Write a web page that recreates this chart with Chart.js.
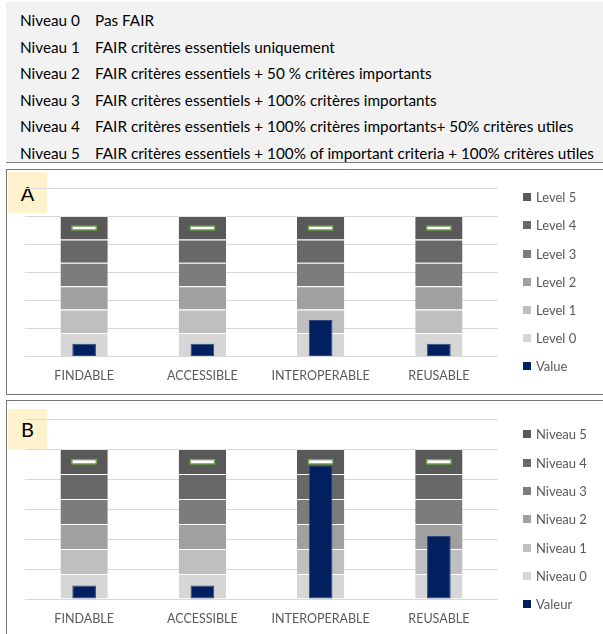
<!DOCTYPE html>
<html>
<head>
<meta charset="utf-8">
<script src="https://cdn.jsdelivr.net/npm/chart.js@4.4.1/dist/chart.umd.min.js"></script>
<style>
  body { margin: 0; width: 603px; height: 634px; overflow: hidden; background: #fff; position: relative; font-family: Lato, "Noto Sans", sans-serif; }
  #levels { position: absolute; left: 6px; top: 2px; width: 597px; height: 160px; background: #f2f2f2; border-bottom: 1px solid #7f7f7f; }
  .row { position: absolute; left: 14px; font-size: 15.3px; line-height: 18px; color: #000; white-space: nowrap; }
  .row .n { display: inline-block; width: 75px; }
  .panel { position: absolute; left: 6px; width: 610px; border: 1px solid #767676; box-sizing: border-box; }
  .tag { position: absolute; left: 8px; width: 39px; background: #fff2cc; font-size: 20px; color: #000; display: flex; align-items: center; justify-content: center; }
  .wrap { position: absolute; left: 8px; width: 595px; }
  .legend { position: absolute; left: 523px; font-size: 13px; color: #595959; }
  .legend .item { position: absolute; left: 0; height: 14px; line-height: 14px; white-space: nowrap; }
  .legend .box { position: absolute; left: 0; top: 3px; width: 8px; height: 8px; }
  .legend .txt { position: absolute; left: 13px; top: 0; }
</style>
</head>
<body>
<div id="levels"></div>

<div class="panel" style="top:169px;height:226px"></div>
<div class="tag" style="top:172px;height:41px">A</div>
<div class="wrap" style="top:171px;height:235px"><canvas id="chartA"></canvas></div>
<div class="legend" id="legendA"></div>

<div class="panel" style="top:400px;height:300px"></div>
<div class="tag" style="top:409px;height:40px">B</div>
<div class="wrap" style="top:402px;height:245px"><canvas id="chartB"></canvas></div>
<div class="legend" id="legendB"></div>

<script>
const levelNames = ['Niveau 0', 'Niveau 1', 'Niveau 2', 'Niveau 3', 'Niveau 4', 'Niveau 5'];
const levelDescriptions = [
  'Pas FAIR',
  'FAIR critères essentiels uniquement',
  'FAIR critères essentiels + 50 % critères importants',
  'FAIR critères essentiels + 100% critères importants',
  'FAIR critères essentiels + 100% critères importants+ 50% critères utiles',
  'FAIR critères essentiels + 100% of important criteria + 100% critères utiles'
];

const categories = ['FINDABLE', 'ACCESSIBLE', 'INTEROPERABLE', 'REUSABLE'];
const levelLabelsA = ['Level 0', 'Level 1', 'Level 2', 'Level 3', 'Level 4', 'Level 5'];
const levelLabelsB = ['Niveau 0', 'Niveau 1', 'Niveau 2', 'Niveau 3', 'Niveau 4', 'Niveau 5'];
// height of each level band (same for every category)
const levelBand = [0.1667, 0.1667, 0.1667, 0.1667, 0.1667, 0.1666];
const levelColors = ['#d6d6d6', '#bfbfbf', '#a0a0a0', '#7c7c7c', '#686868', '#595959'];

const valuesA = [0.09, 0.09, 0.26, 0.09];
const valuesB = [0.09, 0.09, 0.89, 0.42];
const targetLow = [0.895, 0.895, 0.895, 0.895];
const targetHigh = [0.935, 0.935, 0.935, 0.935];

const yMax = 1.2;
const yStep = 0.2;

Chart.defaults.font.family = 'Lato, "Noto Sans", sans-serif';

// top table
const levelsBox = document.getElementById('levels');
levelNames.forEach((n, i) => {
  const row = document.createElement('div');
  row.className = 'row';
  row.style.top = (9 + i * 26.5) + 'px';
  row.innerHTML = `<span class="n">${n}</span>${levelDescriptions[i]}`;
  levelsBox.appendChild(row);
});

function makeChart(id, levelLabels, values, valueLabel, bottomPad) {
  const datasets = levelLabels.map((lab, i) => ({
    label: lab,
    data: categories.map(() => levelBand[i]),
    backgroundColor: levelColors[i],
    borderColor: 'rgba(255,255,255,0.3)',
    borderWidth: { top: 1, left: 0, right: 0, bottom: 0 },
    stack: 'levels',
    order: 2,
    barPercentage: 0.4,
    categoryPercentage: 1
  }));
  datasets.push({
    label: valueLabel,
    data: values,
    backgroundColor: '#002060',
    borderColor: '#34497a',
    borderWidth: 1,
    borderSkipped: false,
    stack: 'value',
    grouped: false,
    order: 1,
    barPercentage: 0.2,
    categoryPercentage: 1
  });
  datasets.push({
    label: '',
    data: categories.map((c, i) => [targetLow[i], targetHigh[i]]),
    backgroundColor: '#ffffff',
    borderColor: '#70ad47',
    borderWidth: 1.5,
    borderSkipped: false,
    stack: 'target',
    grouped: false,
    order: 0,
    barPercentage: 0.22,
    categoryPercentage: 1
  });

  return new Chart(document.getElementById(id), {
    type: 'bar',
    data: { labels: categories, datasets },
    options: {
      responsive: true,
      maintainAspectRatio: false,
      animation: false,
      layout: { padding: { left: 17, top: 17, right: 105, bottom: bottomPad } },
      plugins: { legend: { display: false }, tooltip: { enabled: false } },
      scales: {
        x: {
          stacked: true,
          grid: { display: false, drawTicks: false },
          border: { display: false },
          ticks: { color: '#595959', font: { size: 12.5 }, padding: 12, maxRotation: 0, autoSkip: false }
        },
        y: {
          stacked: true,
          min: 0,
          max: yMax,
          ticks: { display: false, stepSize: yStep },
          grid: { color: '#d9d9d9', lineWidth: 1, drawTicks: false },
          border: { display: false }
        }
      }
    }
  });
}

function buildLegend(elId, chart, firstCenter, step) {
  const el = document.getElementById(elId);
  const ds = chart.data.datasets.filter(d => d.label);
  const levels = ds.filter(d => d.stack === 'levels').reverse();
  const items = levels.concat(ds.filter(d => d.stack === 'value'));
  items.forEach((d, i) => {
    const it = document.createElement('div');
    it.className = 'item';
    it.style.top = (firstCenter + i * step - 7) + 'px';
    it.innerHTML = `<span class="box" style="background:${d.backgroundColor}"></span><span class="txt">${d.label}</span>`;
    el.appendChild(it);
  });
}

const chartA = makeChart('chartA', levelLabelsA, valuesA, 'Value', 10.6);
const chartB = makeChart('chartB', levelLabelsB, valuesB, 'Valeur', 8.9);
buildLegend('legendA', chartA, 197.3, 28.1);
buildLegend('legendB', chartB, 434.3, 28.33);
</script>
</body>
</html>
